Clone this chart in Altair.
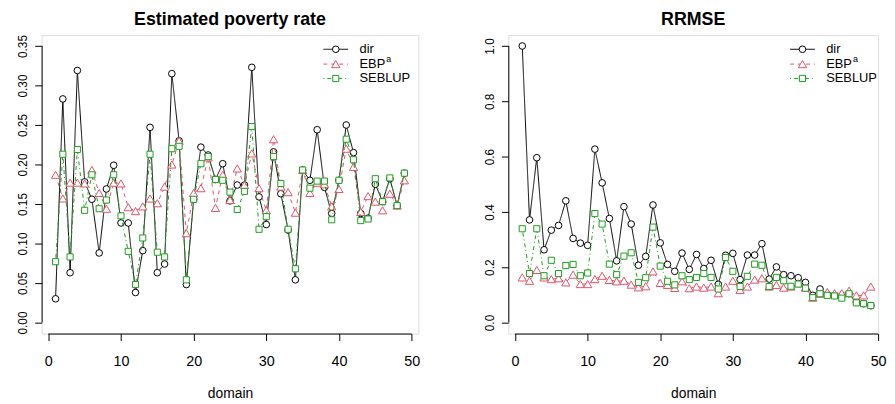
import altair as alt
import pandas as pd

# ---------------- data ----------------
domain_ids = list(range(1, 50))

dir_rate = [0.030, 0.283, 0.063, 0.319, 0.178, 0.156, 0.088, 0.169, 0.199, 0.126,
            0.126, 0.038, 0.091, 0.247, 0.063, 0.074, 0.315, 0.230, 0.048, 0.156,
            0.222, 0.212, 0.181, 0.201, 0.154, 0.174, 0.174, 0.323, 0.159, 0.124,
            0.216, 0.163, 0.117, 0.054, 0.193, 0.180, 0.244, 0.171, 0.138, 0.180,
            0.250, 0.215, 0.138, 0.132, 0.175, 0.153, 0.182, 0.148, 0.189]
ebp_rate = [0.187, 0.157, 0.177, 0.177, 0.176, 0.193, 0.164, 0.144, 0.177, 0.176,
            0.146, 0.141, 0.147, 0.157, 0.151, 0.172, 0.200, 0.230, 0.113, 0.164,
            0.170, 0.209, 0.145, 0.187, 0.155, 0.195, 0.174, 0.214, 0.170, 0.142,
            0.232, 0.172, 0.165, 0.139, 0.193, 0.164, 0.177, 0.175, 0.147, 0.169,
            0.220, 0.197, 0.140, 0.160, 0.153, 0.142, 0.163, 0.148, 0.180]
seblup_rate = [0.077, 0.213, 0.083, 0.219, 0.142, 0.187, 0.144, 0.155, 0.187, 0.135,
               0.090, 0.048, 0.107, 0.213, 0.089, 0.083, 0.220, 0.223, 0.054, 0.156,
               0.201, 0.210, 0.181, 0.180, 0.165, 0.143, 0.166, 0.248, 0.118, 0.134,
               0.210, 0.176, 0.118, 0.068, 0.193, 0.170, 0.179, 0.179, 0.130, 0.180,
               0.232, 0.206, 0.129, 0.131, 0.182, 0.153, 0.183, 0.148, 0.189]

dir_rrmse = [1.000, 0.371, 0.596, 0.263, 0.334, 0.351, 0.440, 0.304, 0.287, 0.279,
             0.627, 0.505, 0.376, 0.223, 0.419, 0.356, 0.207, 0.239, 0.425, 0.288,
             0.210, 0.185, 0.251, 0.192, 0.246, 0.195, 0.225, 0.138, 0.243, 0.250,
             0.155, 0.244, 0.244, 0.285, 0.157, 0.201, 0.173, 0.169, 0.162, 0.145,
             0.098, 0.121, 0.101, 0.098, 0.094, 0.104, 0.074, 0.068, 0.061]
ebp_rrmse = [0.163, 0.151, 0.190, 0.163, 0.157, 0.160, 0.145, 0.173, 0.139, 0.139,
             0.157, 0.169, 0.154, 0.149, 0.151, 0.137, 0.127, 0.131, 0.185, 0.143,
             0.136, 0.125, 0.149, 0.124, 0.130, 0.126, 0.130, 0.106, 0.130, 0.151,
             0.118, 0.130, 0.155, 0.160, 0.130, 0.136, 0.126, 0.130, 0.142, 0.126,
             0.090, 0.104, 0.110, 0.106, 0.106, 0.115, 0.098, 0.098, 0.130]
seblup_rrmse = [0.339, 0.177, 0.339, 0.169, 0.225, 0.177, 0.206, 0.210, 0.169, 0.179,
                0.394, 0.356, 0.211, 0.173, 0.240, 0.252, 0.145, 0.162, 0.345, 0.204,
                0.149, 0.136, 0.169, 0.155, 0.163, 0.177, 0.163, 0.121, 0.235, 0.185,
                0.130, 0.167, 0.211, 0.207, 0.130, 0.163, 0.151, 0.131, 0.139, 0.124,
                0.090, 0.104, 0.098, 0.096, 0.088, 0.104, 0.071, 0.068, 0.061]

series_names = ["dir", "EBP", "SEBLUP"]
x_ticks = [0, 10, 20, 30, 40, 50]
rate_ticks = [0.00, 0.05, 0.10, 0.15, 0.20, 0.25, 0.30, 0.35]
rrmse_ticks = [0.0, 0.2, 0.4, 0.6, 0.8, 1.0]

# ---------------- style ----------------
FONT = "Liberation Sans"
COL = {"dir": "#000000", "EBP": "#DF536B", "SEBLUP": "#1E9E1E"}
DASH = {"dir": [1, 0], "EBP": [4, 4], "SEBLUP": [1, 3, 4, 3]}
SHAPE = {"dir": "circle", "EBP": "triangle-up", "SEBLUP": "square"}
SIZE = {"dir": 45, "EBP": 70, "SEBLUP": 38}
H = 302


def panel(values, title, y_ticks, y_fmt, y_dom, x_dom, width):
    xaxis = alt.Axis(values=x_ticks, format="d", grid=False, domain=False,
                     tickSize=7, tickColor="black", tickWidth=1,
                     labelFontSize=14.5, labelFont=FONT, labelColor="black",
                     labelPadding=14, labelFlush=False, labelOverlap=False,
                     title="domain", titleFont=FONT, titleFontSize=14,
                     titleFontWeight="normal", titleColor="black", titlePadding=19)
    yaxis = alt.Axis(values=y_ticks, format=y_fmt, grid=False, domain=False,
                     tickSize=7, tickColor="black", tickWidth=1,
                     labelFontSize=12, labelFont=FONT, labelColor="black",
                     labelAngle=270, labelAlign="center", labelBaseline="bottom",
                     labelPadding=5, labelFlush=False, labelOverlap=False,
                     minExtent=33, maxExtent=33, title=None)
    xs = alt.Scale(domain=x_dom, nice=False, zero=False)
    ys = alt.Scale(domain=y_dom, nice=False, zero=False)

    layers = []
    # axis lines spanning first..last tick (R style)
    xline = pd.DataFrame({"lo": [x_ticks[0]], "hi": [x_ticks[-1]]})
    layers.append(alt.Chart(xline).mark_rule(color="black", strokeWidth=1).encode(
        x=alt.X("lo:Q", scale=xs, axis=xaxis), x2="hi:Q", y=alt.value(H + 0.5)))
    yline = pd.DataFrame({"lo": [y_ticks[0]], "hi": [y_ticks[-1]]})
    layers.append(alt.Chart(yline).mark_rule(color="black", strokeWidth=1).encode(
        y=alt.Y("lo:Q", scale=ys, axis=yaxis), y2="hi:Q", x=alt.value(0.5)))

    for name, vals in zip(series_names, values):
        df = pd.DataFrame({"domain": domain_ids, "value": vals})
        base = alt.Chart(df).encode(
            x=alt.X("domain:Q", scale=xs, axis=xaxis),
            y=alt.Y("value:Q", scale=ys, axis=yaxis))
        layers.append(base.mark_line(color=COL[name], strokeWidth=1,
                                     strokeDash=DASH[name]))
        layers.append(base.mark_point(shape=SHAPE[name], size=SIZE[name], filled=True,
                                      fill="white", stroke=COL[name], strokeWidth=1,
                                      opacity=1))

    # manual legend (top right of plot region)
    rows = [14.5, 29.5, 44.0]
    lx0, lx1, mx, tx = 285, 310, 297.5, 321.5
    for name, ry in zip(series_names, rows):
        ldf = pd.DataFrame({"label": [name]})
        lc = alt.Chart(ldf)
        layers.append(lc.mark_rule(color=COL[name], strokeWidth=1,
                                   strokeDash=DASH[name]).encode(
            x=alt.value(lx0), x2=alt.value(lx1), y=alt.value(ry)))
        layers.append(lc.mark_point(shape=SHAPE[name], size=SIZE[name], filled=True,
                                    fill="white", stroke=COL[name], strokeWidth=1,
                                    opacity=1).encode(
            x=alt.value(mx), y=alt.value(ry)))
        layers.append(lc.mark_text(align="left", baseline="middle", font=FONT,
                                   fontSize=13, color="black").encode(
            x=alt.value(tx), y=alt.value(ry), text="label:N"))
        if name == "EBP":
            sdf = pd.DataFrame({"label": ["a"]})
            layers.append(alt.Chart(sdf).mark_text(align="left", baseline="middle",
                                                   font=FONT, fontSize=9,
                                                   color="black").encode(
                x=alt.value(tx + 27), y=alt.value(ry - 5), text="label:N"))

    return alt.layer(*layers).properties(
        width=width, height=H,
        title=alt.TitleParams(title, font=FONT, fontSize=18, fontWeight="bold",
                              anchor="middle", color="black", offset=6))


left = panel([dir_rate, ebp_rate, seblup_rate], "Estimated poverty rate",
             rate_ticks, ".2f", [-0.014, 0.364], [-0.92, 50.92], 381)
right = panel([dir_rrmse, ebp_rrmse, seblup_rrmse], "RRMSE",
              rrmse_ticks, ".1f", [-0.04, 1.04], [-0.92, 50.0], 374)

chart = alt.hconcat(left, right, spacing=55).properties(
    padding={"left": 0, "top": 0, "right": 0, "bottom": 0}
).configure_view(stroke=None).configure(background="white")

chart.save("out.html", embed_options={"renderer": "svg", "actions": False})
